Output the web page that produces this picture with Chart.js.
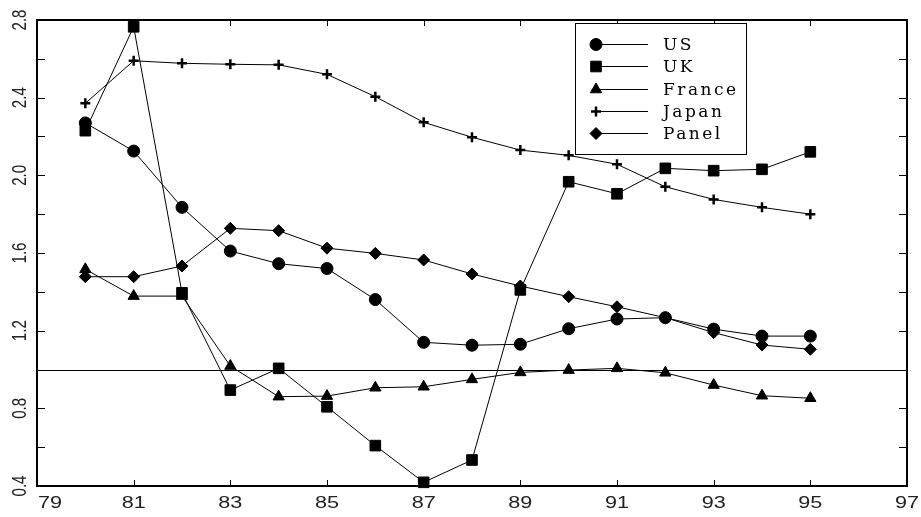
<!DOCTYPE html>
<html>
<head>
<meta charset="utf-8">
<script src="https://cdn.jsdelivr.net/npm/chart.js@4.4.0/dist/chart.umd.min.js"></script>
<style>
    html, body { margin: 0; padding: 0; background: #fff; }
</style>
</head>
<body>
<canvas id="lineChart" width="921" height="517"></canvas>
<script>
// values
var years = [80, 81, 82, 83, 84, 85, 86, 87, 88, 89, 90, 91, 92, 93, 94, 95];
var usData = [2.27, 2.125, 1.835, 1.61, 1.545, 1.52, 1.36, 1.14, 1.125, 1.13, 1.21, 1.26, 1.267, 1.208, 1.172, 1.172];
var ukData = [2.23, 2.765, 1.395, 0.894, 1.006, 0.808, 0.608, 0.419, 0.534, 1.41, 1.967, 1.905, 2.036, 2.024, 2.031, 2.121];
var franceData = [1.516, 1.378, 1.378, 1.018, 0.86, 0.863, 0.906, 0.911, 0.949, 0.985, 0.997, 1.006, 0.983, 0.92, 0.865, 0.852];
var japanData = [2.371, 2.59, 2.577, 2.572, 2.569, 2.52, 2.405, 2.273, 2.196, 2.13, 2.103, 2.057, 1.941, 1.876, 1.835, 1.80];
var panelData = [1.478, 1.478, 1.533, 1.727, 1.715, 1.625, 1.598, 1.564, 1.492, 1.43, 1.375, 1.323, 1.267, 1.19, 1.126, 1.104];

var seriesNames = ['US', 'UK', 'France', 'Japan', 'Panel'];
var xTicks = [79, 81, 83, 85, 87, 89, 91, 93, 95, 97];
var yTicks = [0.4, 0.8, 1.2, 1.6, 2.0, 2.4, 2.8];
var yMinorTicks = [0.6, 1.0, 1.4, 1.8, 2.2, 2.6];
var refValue = 1.0;

function toPoints(values) {
    return years.map(function (yr, i) { return { x: yr, y: values[i] } })
}

function lineSet(name, values, style, radius, bw) {
    return {
        label: name,
        data: toPoints(values),
        borderColor: '#000',
        backgroundColor: '#000',
        borderWidth: 1,
        pointStyle: style,
        pointRadius: radius,
        pointBorderWidth: bw,
        pointBackgroundColor: '#000',
        pointBorderColor: '#000',
        tension: 0,
        clip: false
    }
}

var datasets = [
    lineSet(seriesNames[0], usData, 'circle', 6, 1),
    lineSet(seriesNames[1], ukData, 'rect', 7.5, 1),
    lineSet(seriesNames[2], franceData, 'triangle', 6.5, 1),
    lineSet(seriesNames[3], japanData, 'cross', 5, 2.5),
    lineSet(seriesNames[4], panelData, 'rectRot', 6, 1)
]

var framePlugin = {
    id: 'framePlugin',
    beforeDatasetsDraw: function (chart) {
        var ctx = chart.ctx, a = chart.chartArea;
        var py = Math.round(chart.scales.y.getPixelForValue(refValue)) + 0.5;
        ctx.save();
        ctx.strokeStyle = '#000';
        ctx.lineWidth = 1;
        ctx.beginPath();
        ctx.moveTo(a.left, py);
        ctx.lineTo(a.right, py);
        ctx.stroke();
        ctx.restore();
    },
    afterDraw: function (chart) {
        var ctx = chart.ctx, a = chart.chartArea;
        var xs = chart.scales.x, ys = chart.scales.y;
        ctx.save();

        // box
        ctx.strokeStyle = '#000';
        ctx.lineWidth = 2;
        ctx.strokeRect(a.left, a.top, a.right - a.left, a.bottom - a.top);

        // inward ticks
        ctx.lineWidth = 1;
        ctx.beginPath();
        xTicks.forEach(function (t) {
            var px = Math.round(xs.getPixelForValue(t)) + 0.5;
            ctx.moveTo(px, a.bottom); ctx.lineTo(px, a.bottom - 6);
            ctx.moveTo(px, a.top); ctx.lineTo(px, a.top + 6);
        })
        yTicks.concat(yMinorTicks).forEach(function (t) {
            var py = Math.round(ys.getPixelForValue(t)) + 0.5;
            ctx.moveTo(a.left, py); ctx.lineTo(a.left + 8, py);
            ctx.moveTo(a.right, py); ctx.lineTo(a.right - 8, py);
        })
        ctx.stroke();

        // x labels
        ctx.fillStyle = '#222';
        ctx.font = '16px "Liberation Sans", Arial, sans-serif';
        ctx.textBaseline = 'alphabetic';
        xTicks.forEach(function (t, i) {
            var px = xs.getPixelForValue(t);
            ctx.save();
            if (i == 0) {
                ctx.textAlign = 'left';
                ctx.translate(a.left + 1, 507.5);
            } else {
                ctx.textAlign = 'center';
                ctx.translate(px, 507.5);
            }
            ctx.scale(1.35, 1);
            ctx.fillText(String(t), 0, 0);
            ctx.restore();
        })

        // y labels, rotated
        ctx.font = '21px "Liberation Sans", Arial, sans-serif';
        ctx.textAlign = 'center';
        ctx.textBaseline = 'middle';
        yTicks.forEach(function (t) {
            var py = ys.getPixelForValue(t);
            ctx.save();
            ctx.translate(20.5, py);
            ctx.rotate(-Math.PI / 2);
            ctx.scale(0.72, 1);
            ctx.fillText(t.toFixed(1), 0, 0);
            ctx.restore();
        })

        // legend
        var bx = 575, by = 23, bw = 171, bh = 131;
        ctx.fillStyle = '#fff';
        ctx.fillRect(bx, by, bw, bh);
        ctx.lineWidth = 1;
        ctx.strokeStyle = '#000';
        ctx.strokeRect(bx + 0.5, by + 0.5, bw, bh);
        ctx.font = '17px "DejaVu Serif", serif';
        ctx.textAlign = 'left';
        ctx.textBaseline = 'middle';
        if ('letterSpacing' in ctx) ctx.letterSpacing = '2.5px';
        chart.data.datasets.forEach(function (ds, i) {
            var ly = Math.round(44 + i * 22.3) + 0.5;
            ctx.strokeStyle = '#000';
            ctx.lineWidth = 1;
            ctx.beginPath();
            ctx.moveTo(596, ly);
            ctx.lineTo(648, ly);
            ctx.stroke();
            ctx.fillStyle = '#000';
            ctx.lineWidth = ds.pointBorderWidth;
            if (Chart.helpers && Chart.helpers.drawPoint) {
                Chart.helpers.drawPoint(ctx, {
                    pointStyle: ds.pointStyle,
                    radius: ds.pointRadius,
                    rotation: 0,
                    borderWidth: ds.pointBorderWidth
                }, 596, ly);
            }
            ctx.fillStyle = '#000';
            ctx.fillText(ds.label, 663, ly + 1);
        })
        ctx.restore();
    }
}

new Chart(document.getElementById('lineChart').getContext('2d'), {
    type: 'line',
    data: { datasets: datasets },
    options: {
        responsive: false,
        animation: false,
        layout: { padding: { left: 37, top: 20, right: 14, bottom: 31 } },
        plugins: { legend: { display: false }, tooltip: { enabled: false } },
        scales: {
            x: { type: 'linear', min: 79, max: 97, display: false },
            y: { type: 'linear', min: 0.4, max: 2.8, display: false }
        }
    },
    plugins: [framePlugin]
})
</script>
</body>
</html>
